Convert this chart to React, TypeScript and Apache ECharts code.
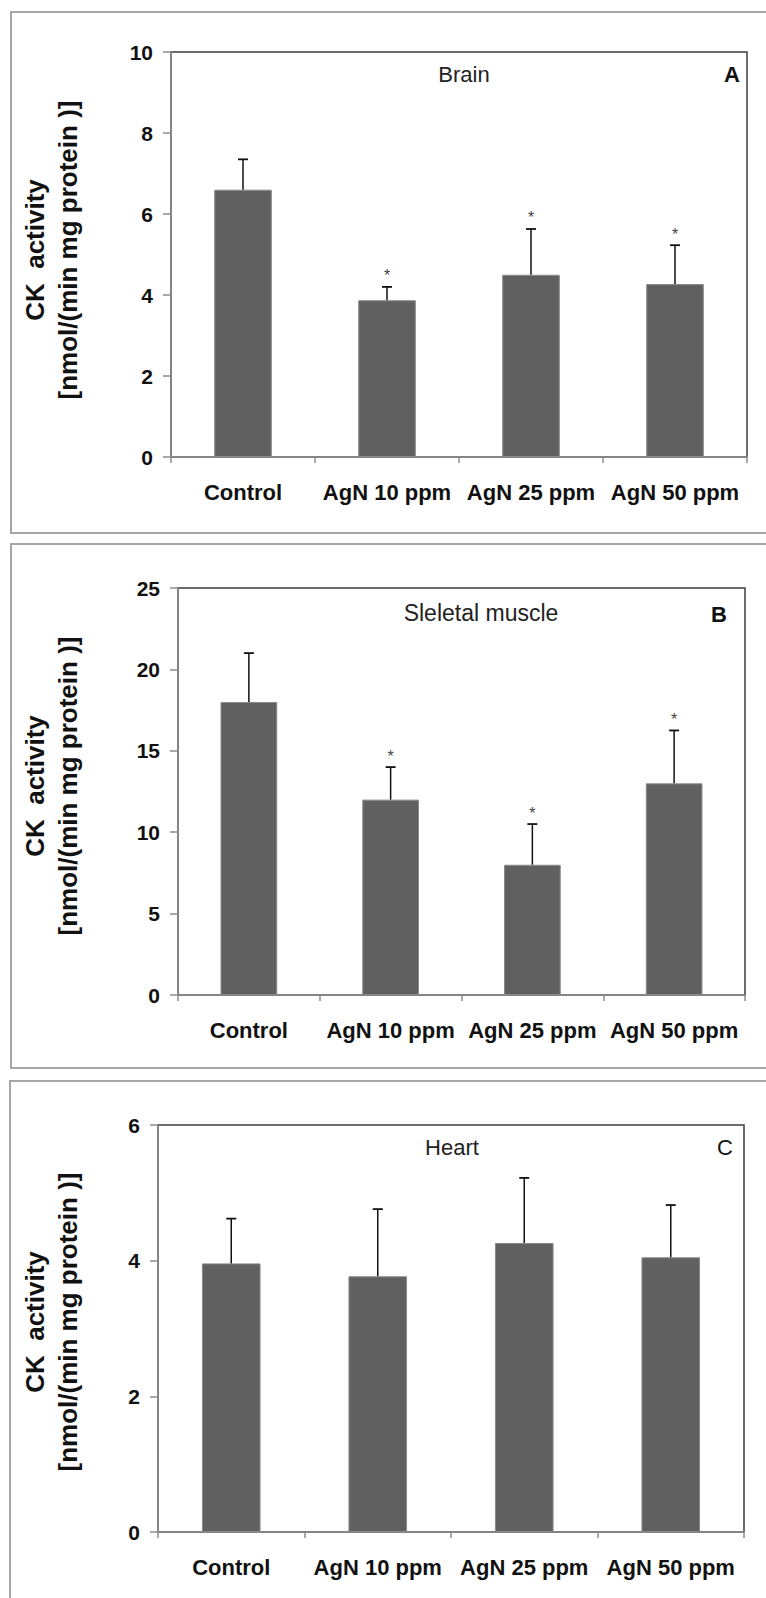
import React, { useEffect, useRef } from 'react';
import * as echarts from 'echarts';

const categories = ['Control', 'AgN 10 ppm', 'AgN 25 ppm', 'AgN 50 ppm'];

const brainMean = [6.6, 3.87, 4.5, 4.27];
const brainSD = [0.75, 0.33, 1.13, 0.96];
const brainSig = [0, 1, 1, 1];

const muscleMean = [18.0, 12.0, 8.0, 13.0];
const muscleSD = [3.0, 2.0, 2.5, 3.25];
const muscleSig = [0, 1, 1, 1];

const heartMean = [3.96, 3.77, 4.26, 4.05];
const heartSD = [0.66, 0.99, 0.96, 0.77];
const heartSig = [0, 0, 0, 0];

const panelTitles = ['Brain', 'Sleletal muscle', 'Heart'];
const panelLetters = ['A', 'B', 'C'];
const yMax = [10, 25, 6];
const yInterval = [2, 5, 2];
const yNameLine1 = 'CK  activity';
const yNameLine2 = '[nmol/(min mg protein )]';

const FONT = "'Liberation Sans', Arial, Helvetica, sans-serif";

// layout (pixels)
const grids = [
  { left: 171, top: 52, width: 576, height: 405 },
  { left: 178, top: 588, width: 567, height: 407 },
  { left: 158, top: 1125, width: 586, height: 407 },
];
const frames = [
  { x: 11, y: 12, w: 800, h: 521 },
  { x: 11, y: 544, w: 800, h: 524 },
  { x: 10, y: 1081, w: 800, h: 560 },
];
const titlePos = [
  { x: 464, y: 74 },
  { x: 481, y: 613 },
  { x: 452, y: 1147 },
];
const letterPos = [
  { x: 732, y: 74, bold: true },
  { x: 719, y: 614, bold: true },
  { x: 725, y: 1147, bold: false },
];
const yNameCenterY = [250, 786, 1322];

const means = [brainMean, muscleMean, heartMean];
const sds = [brainSD, muscleSD, heartSD];
const sigs = [brainSig, muscleSig, heartSig];

export default function App() {
  const ref = useRef<HTMLDivElement>(null);

  useEffect(() => {
    document.body.style.margin = '0';
    document.body.style.overflow = 'hidden';
    if (!ref.current) return;
    const chart = echarts.init(ref.current, null, { renderer: 'svg' });

    const axisGray = '#8c8c8c';

    const option: any = {
      animation: false,
      backgroundColor: '#ffffff',
      grid: grids.map((g) => ({
        left: g.left,
        top: g.top,
        width: g.width,
        height: g.height,
        show: true,
        borderColor: '#3c3c3c',
        borderWidth: 1.5,
        containLabel: false,
      })),
      xAxis: grids.map((_, i) => ({
        type: 'category',
        gridIndex: i,
        data: categories,
        boundaryGap: true,
        axisLine: { show: true, lineStyle: { color: axisGray, width: 1.5 } },
        axisTick: { show: true, length: 6, alignWithLabel: false, lineStyle: { color: axisGray, width: 1.5 } },
        axisLabel: {
          interval: 0,
          margin: 24,
          fontSize: 22,
          fontWeight: 'bold',
          color: '#111',
          fontFamily: FONT,
        },
        splitLine: { show: false },
      })),
      yAxis: grids.map((_, i) => ({
        type: 'value',
        gridIndex: i,
        min: 0,
        max: yMax[i],
        interval: yInterval[i],
        axisLine: { show: true, lineStyle: { color: axisGray, width: 1.5 } },
        axisTick: { show: true, length: 8, lineStyle: { color: axisGray, width: 1.5 } },
        axisLabel: {
          margin: 18,
          fontSize: 21,
          fontWeight: 'bold',
          color: '#111',
          fontFamily: FONT,
        },
        splitLine: { show: false },
      })),
      series: [] as any[],
      graphic: [] as any[],
    };

    grids.forEach((_, i) => {
      option.series.push({
        type: 'bar',
        xAxisIndex: i,
        yAxisIndex: i,
        data: means[i],
        barWidth: '40%',
        itemStyle: { color: '#606060', borderColor: '#8a8a8a', borderWidth: 1 },
        z: 2,
      });
      option.series.push({
        type: 'custom',
        xAxisIndex: i,
        yAxisIndex: i,
        z: 5,
        data: categories.map((_, k) => [k, means[i][k], sds[i][k], sigs[i][k]]),
        renderItem: (params: any, api: any) => {
          const idx = api.value(0);
          const m = api.value(1);
          const sd = api.value(2);
          const sig = api.value(3);
          const base = api.coord([idx, m]);
          const top = api.coord([idx, m + sd]);
          const half = 5;
          const children: any[] = [
            {
              type: 'line',
              shape: { x1: top[0], y1: base[1], x2: top[0], y2: top[1] },
              style: { stroke: '#111', lineWidth: 1.5 },
            },
            {
              type: 'line',
              shape: { x1: top[0] - half, y1: top[1], x2: top[0] + half, y2: top[1] },
              style: { stroke: '#111', lineWidth: 1.8 },
            },
          ];
          if (sig) {
            children.push({
              type: 'text',
              style: {
                x: top[0],
                y: top[1] - 11,
                text: '*',
                fontSize: 16,
                fontFamily: FONT,
                fill: '#444',
                textAlign: 'center',
                textVerticalAlign: 'middle',
              },
            });
          }
          return { type: 'group', children };
        },
      });

      const f = frames[i];
      option.graphic.push({
        type: 'rect',
        shape: { x: f.x, y: f.y, width: f.w, height: f.h },
        style: { fill: 'none', stroke: '#a6a6a6', lineWidth: 2 },
        silent: true,
        z: -1,
      });
      option.graphic.push({
        type: 'text',
        x: titlePos[i].x,
        y: titlePos[i].y,
        style: {
          text: panelTitles[i],
          fontSize: i === 1 ? 23 : 22,
          fontFamily: FONT,
          fill: '#222',
          textAlign: 'center',
          textVerticalAlign: 'middle',
        },
      });
      option.graphic.push({
        type: 'text',
        x: letterPos[i].x,
        y: letterPos[i].y,
        style: {
          text: panelLetters[i],
          fontSize: 22,
          fontWeight: letterPos[i].bold ? 'bold' : 'normal',
          fontFamily: FONT,
          fill: '#111',
          textAlign: 'center',
          textVerticalAlign: 'middle',
        },
      });
      option.graphic.push({
        type: 'text',
        x: 35,
        y: yNameCenterY[i],
        rotation: Math.PI / 2,
        style: {
          text: yNameLine1,
          fontSize: 26,
          fontWeight: 'bold',
          fontFamily: FONT,
          fill: '#111',
          textAlign: 'center',
          textVerticalAlign: 'middle',
        },
      });
      option.graphic.push({
        type: 'text',
        x: 68,
        y: yNameCenterY[i],
        rotation: Math.PI / 2,
        style: {
          text: yNameLine2,
          fontSize: 26,
          fontWeight: 'bold',
          fontFamily: FONT,
          fill: '#111',
          textAlign: 'center',
          textVerticalAlign: 'middle',
        },
      });
    });

    chart.setOption(option);
    return () => {
      chart.dispose();
    };
  }, []);

  return <div ref={ref} style={{ width: 766, height: 1598 }} />;
}
